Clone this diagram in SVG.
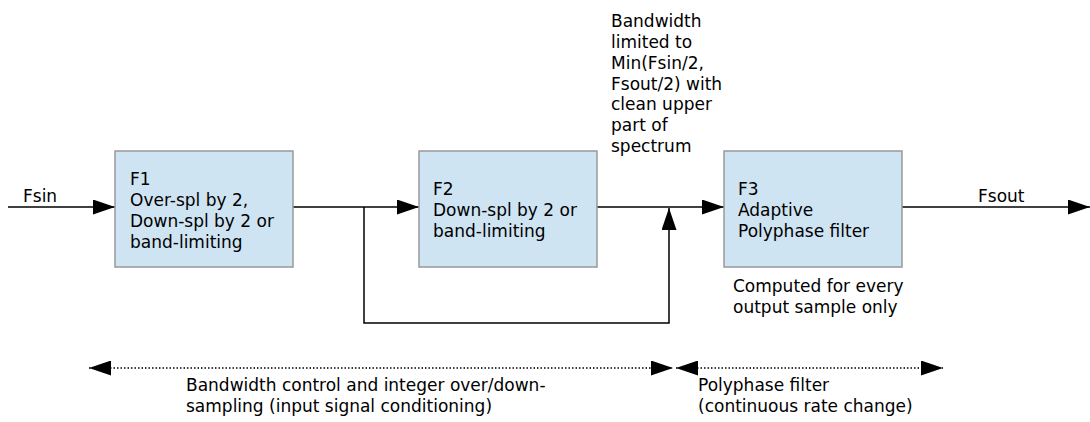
<svg xmlns="http://www.w3.org/2000/svg" width="1090" height="422" viewBox="0 0 1090 422">
  <style>
    .box { fill: #cfe4f3; stroke: #999999; stroke-width: 1.5; }
    .wire { fill: none; stroke: #000; stroke-width: 1.5; }
    .dots { fill: none; stroke: #000; stroke-width: 1.5; stroke-dasharray: 1.5 2; }
    text { font-family: "DejaVu Sans", "Liberation Sans", sans-serif; font-size: 17px; fill: #000; }
  </style>
  <defs>
    <marker id="arrow" viewBox="0 0 22 15" refX="22" refY="7.5" markerWidth="22" markerHeight="15" markerUnits="userSpaceOnUse" orient="auto-start-reverse">
      <path d="M0,0 L22,7.5 L0,15 Z" fill="#000"/>
    </marker>
  </defs>

  <rect width="1090" height="422" fill="#fff"/>

  <!-- signal path and bypass -->
  <g id="connectors">
    <line class="wire" x1="8" y1="207" x2="115" y2="207" marker-end="url(#arrow)"/>
    <line class="wire" x1="293" y1="207" x2="419" y2="207" marker-end="url(#arrow)"/>
    <polyline class="wire" points="364,207 364,323 669,323 669,208" marker-end="url(#arrow)"/>
    <line class="wire" x1="597" y1="207" x2="724" y2="207" marker-end="url(#arrow)"/>
    <line class="wire" x1="902" y1="207" x2="1090" y2="207" marker-end="url(#arrow)"/>
    <line class="dots" x1="89" y1="368" x2="673" y2="368" marker-start="url(#arrow)" marker-end="url(#arrow)"/>
    <line class="dots" x1="676" y1="368" x2="943" y2="368" marker-start="url(#arrow)" marker-end="url(#arrow)"/>
  </g>

  <g id="F1">
    <rect class="box" x="115" y="151" width="178" height="116"/>
    <text x="130" y="185">F1</text>
    <text x="130" y="206">Over-spl by 2,</text>
    <text x="130" y="227">Down-spl by 2 or</text>
    <text x="130" y="248">band-limiting</text>
  </g>

  <g id="F2">
    <rect class="box" x="419" y="151" width="178" height="116"/>
    <text x="433" y="195">F2</text>
    <text x="433" y="216">Down-spl by 2 or</text>
    <text x="433" y="237">band-limiting</text>
  </g>

  <g id="F3">
    <rect class="box" x="724" y="151" width="178" height="116"/>
    <text x="738" y="195">F3</text>
    <text x="738" y="216">Adaptive</text>
    <text x="738" y="237">Polyphase filter</text>
  </g>

  <g id="labels">
    <text x="23" y="202">Fsin</text>
    <text x="978" y="202">Fsout</text>
    <text x="611" y="27">Bandwidth</text>
    <text x="611" y="48">limited to</text>
    <text x="611" y="69">Min(Fsin/2,</text>
    <text x="611" y="90">Fsout/2) with</text>
    <text x="611" y="110">clean upper</text>
    <text x="611" y="131">part of</text>
    <text x="611" y="152">spectrum</text>
    <text x="733" y="292">Computed for every</text>
    <text x="733" y="313">output sample only</text>
    <text x="186" y="391">Bandwidth control and integer over/down-</text>
    <text x="186" y="412">sampling (input signal conditioning)</text>
    <text x="698" y="391">Polyphase filter</text>
    <text x="698" y="412">(continuous rate change)</text>
  </g>
</svg>
